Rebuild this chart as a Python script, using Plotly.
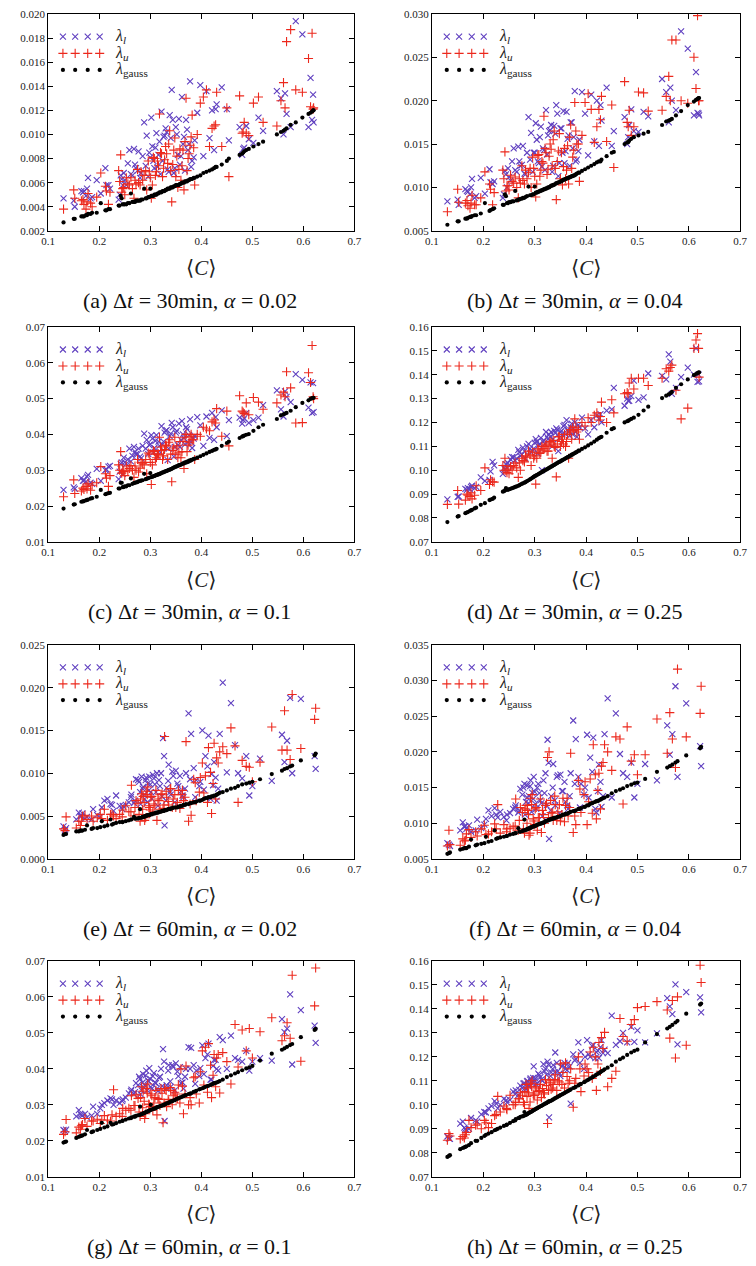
import plotly.graph_objects as go

# ---------------- data ----------------
# <C> values of the time windows (dt = 30 min), main set and dense-region set
X30 = [0.130, 0.150, 0.152, 0.165, 0.170, 0.174, 0.178, 0.186, 0.195, 0.203,
       0.212, 0.218, 0.221, 0.238, 0.242, 0.246, 0.250, 0.256, 0.262, 0.268,
       0.272, 0.277, 0.282, 0.288, 0.293, 0.298, 0.302, 0.306, 0.310, 0.314,
       0.318, 0.322, 0.326, 0.330, 0.334, 0.338, 0.342, 0.346, 0.350, 0.354,
       0.358, 0.362, 0.366, 0.370, 0.374, 0.378, 0.382, 0.387, 0.392, 0.398,
       0.404, 0.410, 0.416, 0.421, 0.425, 0.430, 0.440, 0.450, 0.454, 0.475,
       0.480, 0.484, 0.488, 0.493, 0.502, 0.512, 0.521, 0.548, 0.556, 0.561,
       0.564, 0.567, 0.575, 0.585, 0.598, 0.610, 0.614, 0.617, 0.619, 0.620]
X30B = [0.168, 0.176, 0.183, 0.214, 0.240, 0.244, 0.248, 0.253, 0.259, 0.265,
        0.270, 0.275, 0.280, 0.285, 0.291, 0.296, 0.300, 0.304, 0.308, 0.312,
        0.316, 0.320, 0.324, 0.328, 0.332, 0.336, 0.340, 0.344, 0.348, 0.352,
        0.356, 0.360, 0.364, 0.368, 0.372, 0.376, 0.380, 0.385, 0.428, 0.482]

# <C> values of the time windows (dt = 60 min)
X60 = [0.130, 0.133, 0.135, 0.155, 0.160, 0.163, 0.167, 0.172, 0.176, 0.188,
       0.196, 0.202, 0.210, 0.216, 0.222, 0.228, 0.233, 0.240, 0.246, 0.252,
       0.258, 0.263, 0.268, 0.272, 0.276, 0.280, 0.283, 0.286, 0.289, 0.292,
       0.295, 0.298, 0.301, 0.305, 0.309, 0.313, 0.317, 0.321, 0.325, 0.328,
       0.332, 0.336, 0.340, 0.345, 0.350, 0.355, 0.360, 0.365, 0.370, 0.375,
       0.380, 0.385, 0.390, 0.396, 0.402, 0.408, 0.414, 0.420, 0.425, 0.430,
       0.436, 0.442, 0.450, 0.458, 0.466, 0.472, 0.480, 0.488, 0.494, 0.500,
       0.515, 0.538, 0.558, 0.563, 0.568, 0.574, 0.578, 0.595, 0.622, 0.624]
X60B = [0.165, 0.185, 0.205, 0.225, 0.245, 0.262, 0.270, 0.278, 0.281, 0.285,
        0.288, 0.291, 0.294, 0.297, 0.300, 0.303, 0.307, 0.311, 0.315, 0.319,
        0.323, 0.327, 0.331, 0.335, 0.339, 0.343, 0.348, 0.353, 0.358, 0.363,
        0.368, 0.378, 0.388, 0.398, 0.405, 0.412, 0.418, 0.423, 0.428, 0.433]

# (a) dt=30min, alpha=0.02
LOW_A = [0.0047, 0.0045, 0.0040, 0.0053, 0.0053, 0.0049, 0.0064, 0.0048, 0.0062, 0.0051,
         0.0072, 0.0058, 0.0055, 0.0046, 0.0066, 0.0058, 0.0062, 0.0076, 0.0067, 0.0088,
         0.0072, 0.0086, 0.0068, 0.0110, 0.0099, 0.0085, 0.0114, 0.0078, 0.0089, 0.0073,
         0.0094, 0.0119, 0.0098, 0.0105, 0.0071, 0.0116, 0.0137, 0.0068, 0.0106, 0.0083,
         0.0075, 0.0131, 0.0098, 0.0112, 0.0087, 0.0144, 0.0078, 0.0095, 0.0118, 0.0141,
         0.0082, 0.0136, 0.0097, 0.0120, 0.0087, 0.0125, 0.0139, 0.0121, 0.0095, 0.0106,
         0.0083, 0.0089, 0.0107, 0.0096, 0.0093, 0.0114, 0.0103, 0.0136, 0.0130, 0.0100,
         0.0134, 0.0117, 0.0106, 0.0194, 0.0183, 0.0106, 0.0147, 0.0112, 0.0133, 0.0110]
UP_A = [0.0038, 0.0054, 0.0047, 0.0045, 0.0042, 0.0038, 0.0051, 0.0040, 0.0048, 0.0068,
        0.0057, 0.0042, 0.0052, 0.0070, 0.0083, 0.0055, 0.0050, 0.0059, 0.0064, 0.0047,
        0.0059, 0.0060, 0.0069, 0.0066, 0.0054, 0.0069, 0.0047, 0.0081, 0.0066, 0.0078,
        0.0117, 0.0084, 0.0072, 0.0090, 0.0076, 0.0103, 0.0044, 0.0087, 0.0065, 0.0056,
        0.0088, 0.0074, 0.0054, 0.0130, 0.0080, 0.0091, 0.0116, 0.0058, 0.0100, 0.0126,
        0.0131, 0.0137, 0.0090, 0.0105, 0.0107, 0.0135, 0.0090, 0.0122, 0.0065, 0.0132,
        0.0101, 0.0110, 0.0101, 0.0099, 0.0126, 0.0131, 0.0110, 0.0107, 0.0128, 0.0143,
        0.0122, 0.0177, 0.0187, 0.0137, 0.0135, 0.0163, 0.0123, 0.0184, 0.0121, 0.0122]
GAUSS_A = [0.0027, 0.0030, 0.0030, 0.0032, 0.0032, 0.0033, 0.0034, 0.0035, 0.0035, 0.0043,
           0.0037, 0.0038, 0.0038, 0.0041, 0.0049, 0.0042, 0.0042, 0.0043, 0.0051, 0.0044,
           0.0045, 0.0045, 0.0046, 0.0055, 0.0047, 0.0048, 0.0049, 0.0049, 0.0050, 0.0051,
           0.0052, 0.0052, 0.0053, 0.0054, 0.0055, 0.0055, 0.0056, 0.0057, 0.0058, 0.0058,
           0.0059, 0.0060, 0.0060, 0.0061, 0.0062, 0.0063, 0.0063, 0.0064, 0.0065, 0.0066,
           0.0068, 0.0069, 0.0070, 0.0071, 0.0072, 0.0073, 0.0075, 0.0078, 0.0080, 0.0083,
           0.0084, 0.0086, 0.0087, 0.0088, 0.0090, 0.0092, 0.0094, 0.0100, 0.0102, 0.0103,
           0.0104, 0.0105, 0.0108, 0.0110, 0.0114, 0.0117, 0.0118, 0.0119, 0.0120, 0.0120]
LOW_A2 = [0.0052, 0.0055, 0.0047, 0.0058, 0.0050, 0.0063, 0.0068, 0.0058, 0.0087, 0.0066,
          0.0075, 0.0070, 0.0064, 0.0082, 0.0074, 0.0065, 0.0081, 0.0090, 0.0072, 0.0101,
          0.0083, 0.0067, 0.0078, 0.0099, 0.0102, 0.0069, 0.0097, 0.0112, 0.0072, 0.0100,
          0.0113, 0.0082, 0.0092, 0.0070, 0.0104, 0.0092, 0.0073, 0.0081, 0.0121, 0.0088]
UP_A2 = [0.0046, 0.0044, 0.0043, 0.0053, 0.0061, 0.0052, 0.0056, 0.0064, 0.0058, 0.0055,
         0.0062, 0.0071, 0.0058, 0.0062, 0.0070, 0.0078, 0.0064, 0.0058, 0.0080, 0.0069,
         0.0074, 0.0085, 0.0065, 0.0079, 0.0084, 0.0092, 0.0070, 0.0075, 0.0097, 0.0082,
         0.0071, 0.0062, 0.0087, 0.0094, 0.0070, 0.0084, 0.0098, 0.0089, 0.0108, 0.0102]
GAUSS_A2 = [0.0032, 0.0033, 0.0034, 0.0037, 0.0041, 0.0047, 0.0042, 0.0042, 0.0043, 0.0044,
            0.0044, 0.0045, 0.0045, 0.0046, 0.0047, 0.0048, 0.0055, 0.0049, 0.0050, 0.0050,
            0.0051, 0.0052, 0.0053, 0.0053, 0.0054, 0.0055, 0.0056, 0.0056, 0.0057, 0.0058,
            0.0058, 0.0059, 0.0060, 0.0061, 0.0061, 0.0062, 0.0063, 0.0064, 0.0073, 0.0085]

# (b) dt=30min, alpha=0.04
LOW_B = [0.0084, 0.0086, 0.0080, 0.0098, 0.0095, 0.0092, 0.0110, 0.0090, 0.0111, 0.0093,
         0.0121, 0.0104, 0.0107, 0.0088, 0.0119, 0.0100, 0.0112, 0.0130, 0.0120, 0.0147,
         0.0125, 0.0148, 0.0115, 0.0181, 0.0163, 0.0140, 0.0174, 0.0130, 0.0158, 0.0124,
         0.0143, 0.0189, 0.0160, 0.0166, 0.0118, 0.0171, 0.0195, 0.0113, 0.0168, 0.0140,
         0.0128, 0.0187, 0.0160, 0.0175, 0.0145, 0.0211, 0.0132, 0.0155, 0.0210, 0.0185,
         0.0137, 0.0207, 0.0153, 0.0200, 0.0148, 0.0177, 0.0215, 0.0148, 0.0165, 0.0181,
         0.0150, 0.0172, 0.0190, 0.0165, 0.0164, 0.0187, 0.0182, 0.0225, 0.0210, 0.0175,
         0.0215, 0.0200, 0.0189, 0.0280, 0.0260, 0.0183, 0.0233, 0.0186, 0.0185, 0.0183]
UP_B = [0.0072, 0.0098, 0.0083, 0.0082, 0.0079, 0.0076, 0.0091, 0.0080, 0.0088, 0.0118,
        0.0104, 0.0080, 0.0094, 0.0120, 0.0141, 0.0102, 0.0097, 0.0107, 0.0112, 0.0088,
        0.0105, 0.0108, 0.0120, 0.0117, 0.0100, 0.0122, 0.0089, 0.0137, 0.0113, 0.0130,
        0.0182, 0.0140, 0.0121, 0.0150, 0.0125, 0.0165, 0.0086, 0.0142, 0.0110, 0.0103,
        0.0145, 0.0120, 0.0104, 0.0172, 0.0135, 0.0198, 0.0150, 0.0107, 0.0160, 0.0198,
        0.0208, 0.0190, 0.0152, 0.0170, 0.0190, 0.0205, 0.0153, 0.0195, 0.0123, 0.0222,
        0.0175, 0.0189, 0.0160, 0.0170, 0.0210, 0.0209, 0.0188, 0.0189, 0.0205, 0.0228,
        0.0200, 0.0270, 0.0270, 0.0200, 0.0197, 0.0250, 0.0214, 0.0298, 0.0200, 0.0200]
GAUSS_B = [0.0057, 0.0061, 0.0061, 0.0064, 0.0065, 0.0066, 0.0067, 0.0068, 0.0070, 0.0082,
           0.0073, 0.0075, 0.0076, 0.0080, 0.0092, 0.0082, 0.0083, 0.0084, 0.0096, 0.0086,
           0.0087, 0.0088, 0.0089, 0.0101, 0.0091, 0.0092, 0.0094, 0.0095, 0.0096, 0.0097,
           0.0098, 0.0099, 0.0100, 0.0101, 0.0102, 0.0103, 0.0105, 0.0106, 0.0107, 0.0108,
           0.0109, 0.0110, 0.0111, 0.0112, 0.0113, 0.0114, 0.0116, 0.0117, 0.0119, 0.0121,
           0.0123, 0.0125, 0.0127, 0.0129, 0.0130, 0.0132, 0.0136, 0.0140, 0.0141, 0.0150,
           0.0152, 0.0154, 0.0156, 0.0158, 0.0160, 0.0162, 0.0164, 0.0172, 0.0176, 0.0177,
           0.0178, 0.0179, 0.0183, 0.0188, 0.0195, 0.0199, 0.0201, 0.0202, 0.0203, 0.0203]
LOW_B2 = [0.0096, 0.0100, 0.0088, 0.0106, 0.0092, 0.0115, 0.0122, 0.0108, 0.0145, 0.0118,
          0.0130, 0.0126, 0.0116, 0.0140, 0.0132, 0.0118, 0.0140, 0.0155, 0.0128, 0.0170,
          0.0145, 0.0120, 0.0138, 0.0165, 0.0172, 0.0125, 0.0162, 0.0185, 0.0128, 0.0168,
          0.0188, 0.0142, 0.0156, 0.0125, 0.0175, 0.0158, 0.0130, 0.0142, 0.0195, 0.0158]
UP_B2 = [0.0085, 0.0082, 0.0080, 0.0098, 0.0110, 0.0096, 0.0102, 0.0114, 0.0105, 0.0100,
         0.0110, 0.0125, 0.0104, 0.0110, 0.0122, 0.0135, 0.0113, 0.0104, 0.0138, 0.0120,
         0.0128, 0.0145, 0.0115, 0.0136, 0.0144, 0.0155, 0.0122, 0.0130, 0.0162, 0.0140,
         0.0124, 0.0110, 0.0148, 0.0158, 0.0122, 0.0143, 0.0165, 0.0150, 0.0178, 0.0170]
GAUSS_B2 = [0.0064, 0.0066, 0.0068, 0.0074, 0.0080, 0.0090, 0.0082, 0.0083, 0.0084, 0.0085,
            0.0086, 0.0087, 0.0088, 0.0090, 0.0091, 0.0092, 0.0101, 0.0094, 0.0095, 0.0096,
            0.0097, 0.0098, 0.0099, 0.0100, 0.0102, 0.0103, 0.0104, 0.0105, 0.0106, 0.0107,
            0.0109, 0.0110, 0.0111, 0.0112, 0.0113, 0.0114, 0.0115, 0.0117, 0.0130, 0.0152]

# (c) dt=30min, alpha=0.1
LOW_C = [0.0245, 0.0252, 0.0248, 0.0278, 0.0272, 0.0268, 0.0287, 0.0262, 0.0304, 0.0270,
         0.0300, 0.0310, 0.0312, 0.0275, 0.0318, 0.0290, 0.0322, 0.0330, 0.0325, 0.0365,
         0.0345, 0.0360, 0.0333, 0.0402, 0.0385, 0.0370, 0.0398, 0.0350, 0.0382, 0.0340,
         0.0368, 0.0423, 0.0380, 0.0410, 0.0328, 0.0395, 0.0432, 0.0338, 0.0405, 0.0370,
         0.0365, 0.0437, 0.0390, 0.0420, 0.0378, 0.0442, 0.0362, 0.0395, 0.0448, 0.0425,
         0.0368, 0.0450, 0.0390, 0.0460, 0.0385, 0.0420, 0.0467, 0.0395, 0.0440, 0.0447,
         0.0430, 0.0445, 0.0460, 0.0432, 0.0440, 0.0447, 0.0482, 0.0523, 0.0470, 0.0450,
         0.0520, 0.0505, 0.0490, 0.0568, 0.0552, 0.0475, 0.0545, 0.0460, 0.0543, 0.0462]
UP_C = [0.0226, 0.0273, 0.0235, 0.0242, 0.0246, 0.0255, 0.0262, 0.0258, 0.0265, 0.0310,
        0.0290, 0.0255, 0.0285, 0.0315, 0.0352, 0.0300, 0.0285, 0.0298, 0.0313, 0.0280,
        0.0300, 0.0295, 0.0322, 0.0315, 0.0290, 0.0345, 0.0260, 0.0355, 0.0330, 0.0345,
        0.0392, 0.0355, 0.0340, 0.0370, 0.0330, 0.0385, 0.0268, 0.0362, 0.0345, 0.0335,
        0.0380, 0.0352, 0.0305, 0.0400, 0.0370, 0.0395, 0.0385, 0.0330, 0.0400, 0.0395,
        0.0420, 0.0415, 0.0410, 0.0435, 0.0440, 0.0472, 0.0395, 0.0465, 0.0368, 0.0508,
        0.0465, 0.0458, 0.0488, 0.0455, 0.0503, 0.0490, 0.0470, 0.0488, 0.0510, 0.0518,
        0.0505, 0.0575, 0.0530, 0.0432, 0.0433, 0.0572, 0.0545, 0.0648, 0.0505, 0.0500]
GAUSS_C = [0.0193, 0.0204, 0.0205, 0.0212, 0.0214, 0.0216, 0.0218, 0.0222, 0.0226, 0.0245,
           0.0233, 0.0236, 0.0237, 0.0249, 0.0265, 0.0253, 0.0255, 0.0258, 0.0277, 0.0264,
           0.0266, 0.0269, 0.0271, 0.0290, 0.0276, 0.0279, 0.0281, 0.0283, 0.0285, 0.0287,
           0.0289, 0.0292, 0.0294, 0.0297, 0.0299, 0.0301, 0.0304, 0.0307, 0.0310, 0.0312,
           0.0314, 0.0317, 0.0319, 0.0321, 0.0323, 0.0326, 0.0329, 0.0332, 0.0335, 0.0339,
           0.0343, 0.0347, 0.0351, 0.0354, 0.0357, 0.0360, 0.0368, 0.0376, 0.0380, 0.0390,
           0.0394, 0.0397, 0.0399, 0.0401, 0.0410, 0.0420, 0.0427, 0.0443, 0.0453, 0.0456,
           0.0458, 0.0460, 0.0466, 0.0476, 0.0488, 0.0495, 0.0499, 0.0501, 0.0502, 0.0502]
LOW_C2 = [0.0270, 0.0282, 0.0265, 0.0302, 0.0296, 0.0322, 0.0335, 0.0318, 0.0360, 0.0340,
          0.0352, 0.0345, 0.0338, 0.0368, 0.0360, 0.0345, 0.0372, 0.0388, 0.0362, 0.0398,
          0.0380, 0.0350, 0.0372, 0.0405, 0.0412, 0.0360, 0.0402, 0.0420, 0.0365, 0.0410,
          0.0430, 0.0385, 0.0400, 0.0372, 0.0415, 0.0398, 0.0378, 0.0388, 0.0448, 0.0440]
UP_C2 = [0.0250, 0.0248, 0.0244, 0.0278, 0.0300, 0.0292, 0.0296, 0.0312, 0.0305, 0.0300,
         0.0312, 0.0330, 0.0306, 0.0318, 0.0330, 0.0348, 0.0322, 0.0315, 0.0352, 0.0335,
         0.0345, 0.0365, 0.0330, 0.0358, 0.0368, 0.0378, 0.0345, 0.0355, 0.0392, 0.0368,
         0.0350, 0.0335, 0.0380, 0.0392, 0.0352, 0.0378, 0.0400, 0.0385, 0.0432, 0.0462]
GAUSS_C2 = [0.0213, 0.0217, 0.0221, 0.0234, 0.0249, 0.0265, 0.0253, 0.0255, 0.0258, 0.0262,
            0.0265, 0.0267, 0.0270, 0.0272, 0.0275, 0.0278, 0.0292, 0.0282, 0.0284, 0.0287,
            0.0289, 0.0291, 0.0294, 0.0296, 0.0298, 0.0301, 0.0303, 0.0306, 0.0309, 0.0311,
            0.0314, 0.0316, 0.0319, 0.0322, 0.0324, 0.0327, 0.0329, 0.0332, 0.0358, 0.0395]

# (d) dt=30min, alpha=0.25
LOW_D = [0.0878, 0.0888, 0.0890, 0.0922, 0.0925, 0.0920, 0.0935, 0.0930, 0.0970, 0.0955,
         0.0960, 0.1035, 0.1020, 0.0985, 0.1005, 0.1010, 0.1020, 0.1055, 0.1040, 0.1085,
         0.1060, 0.1095, 0.1050, 0.1110, 0.1075, 0.1090, 0.1130, 0.1070, 0.1110, 0.1000,
         0.1125, 0.1160, 0.1130, 0.1140, 0.1100, 0.1165, 0.1175, 0.1080, 0.1160, 0.1150,
         0.1190, 0.1210, 0.1160, 0.1180, 0.1150, 0.1200, 0.1140, 0.1180, 0.1220, 0.1175,
         0.1150, 0.1210, 0.1180, 0.1230, 0.1215, 0.1200, 0.1250, 0.1255, 0.1345, 0.1270,
         0.1300, 0.1290, 0.1310, 0.1375, 0.1295, 0.1305, 0.1405, 0.1395, 0.1380, 0.1485,
         0.1455, 0.1320, 0.1345, 0.1390, 0.1430, 0.1400, 0.1510, 0.1370, 0.1400, 0.1372]
UP_D = [0.0857, 0.0915, 0.0858, 0.0875, 0.0895, 0.0890, 0.0880, 0.0935, 0.0915, 0.1010,
        0.0940, 0.0952, 0.0950, 0.1020, 0.1050, 0.0990, 0.0985, 0.1000, 0.1030, 0.0970,
        0.1000, 0.1040, 0.1060, 0.1080, 0.1020, 0.1050, 0.0942, 0.1090, 0.1070, 0.1100,
        0.1090, 0.1110, 0.1080, 0.1120, 0.1050, 0.1100, 0.0972, 0.1140, 0.1100, 0.1130,
        0.1150, 0.1120, 0.1050, 0.1170, 0.1180, 0.1215, 0.1160, 0.1130, 0.1200, 0.1185,
        0.1220, 0.1200, 0.1230, 0.1240, 0.1210, 0.1285, 0.1200, 0.1295, 0.1240, 0.1320,
        0.1325, 0.1365, 0.1385, 0.1340, 0.1385, 0.1385, 0.1355, 0.1385, 0.1425, 0.1415,
        0.1430, 0.1440, 0.1335, 0.1215, 0.1260, 0.1510, 0.1545, 0.1572, 0.1510, 0.1390]
GAUSS_D = [0.0783, 0.0806, 0.0808, 0.0820, 0.0825, 0.0830, 0.0834, 0.0843, 0.0855, 0.0862,
           0.0875, 0.0880, 0.0885, 0.0910, 0.0915, 0.0918, 0.0920, 0.0925, 0.0930, 0.0935,
           0.0940, 0.0945, 0.0950, 0.0958, 0.0965, 0.0972, 0.0977, 0.0982, 0.0987, 0.0992,
           0.0997, 0.1002, 0.1007, 0.1012, 0.1017, 0.1022, 0.1028, 0.1033, 0.1037, 0.1042,
           0.1047, 0.1052, 0.1056, 0.1061, 0.1066, 0.1071, 0.1076, 0.1082, 0.1089, 0.1096,
           0.1104, 0.1112, 0.1120, 0.1128, 0.1134, 0.1140, 0.1157, 0.1172, 0.1176, 0.1200,
           0.1205, 0.1210, 0.1215, 0.1220, 0.1232, 0.1250, 0.1266, 0.1302, 0.1312, 0.1318,
           0.1322, 0.1328, 0.1345, 0.1360, 0.1380, 0.1398, 0.1403, 0.1407, 0.1409, 0.1410]
LOW_D2 = [0.0918, 0.0930, 0.0925, 0.0995, 0.1010, 0.1025, 0.1030, 0.1045, 0.1055, 0.1050,
          0.1075, 0.1065, 0.1080, 0.1100, 0.1090, 0.1080, 0.1115, 0.1120, 0.1105, 0.1135,
          0.1120, 0.1110, 0.1140, 0.1150, 0.1160, 0.1130, 0.1155, 0.1170, 0.1135, 0.1165,
          0.1185, 0.1150, 0.1170, 0.1145, 0.1195, 0.1175, 0.1160, 0.1190, 0.1235, 0.1290]
UP_D2 = [0.0900, 0.0905, 0.0895, 0.0960, 0.1000, 0.0998, 0.1005, 0.1015, 0.1020, 0.1010,
         0.1030, 0.1050, 0.1035, 0.1055, 0.1065, 0.1075, 0.1060, 0.1050, 0.1085, 0.1075,
         0.1090, 0.1100, 0.1080, 0.1105, 0.1115, 0.1125, 0.1095, 0.1110, 0.1140, 0.1120,
         0.1110, 0.1100, 0.1150, 0.1160, 0.1130, 0.1165, 0.1180, 0.1170, 0.1225, 0.1320]
GAUSS_D2 = [0.0823, 0.0832, 0.0840, 0.0877, 0.0912, 0.0925, 0.0919, 0.0922, 0.0927, 0.0932,
            0.0937, 0.0943, 0.0948, 0.0954, 0.0962, 0.0969, 0.0975, 0.0980, 0.0985, 0.0990,
            0.0995, 0.1000, 0.1005, 0.1010, 0.1015, 0.1020, 0.1025, 0.1030, 0.1035, 0.1040,
            0.1045, 0.1050, 0.1055, 0.1060, 0.1065, 0.1070, 0.1075, 0.1082, 0.1138, 0.1207]

# (e) dt=60min, alpha=0.02
LOW_E = [0.0038, 0.0034, 0.0036, 0.0046, 0.0054, 0.0050, 0.0053, 0.0047, 0.0049, 0.0058,
         0.0051, 0.0049, 0.0068, 0.0070, 0.0064, 0.0056, 0.0074, 0.0062, 0.0062, 0.0063,
         0.0066, 0.0075, 0.0065, 0.0093, 0.0092, 0.0078, 0.0096, 0.0084, 0.0070, 0.0095,
         0.0088, 0.0096, 0.0078, 0.0098, 0.0087, 0.0100, 0.0092, 0.0100, 0.0141, 0.0039,
         0.0083, 0.0110, 0.0075, 0.0097, 0.0103, 0.0085, 0.0079, 0.0072, 0.0100, 0.0170,
         0.0146, 0.0106, 0.0092, 0.0085, 0.0150, 0.0120, 0.0144, 0.0099, 0.0113, 0.0068,
         0.0146, 0.0206, 0.0101, 0.0182, 0.0133, 0.0100, 0.0094, 0.0120, 0.0074, 0.0085,
         0.0117, 0.0091, 0.0145, 0.0113, 0.0138, 0.0188, 0.0100, 0.0187, 0.0120, 0.0105]
UP_E = [0.0035, 0.0033, 0.0049, 0.0036, 0.0044, 0.0039, 0.0050, 0.0051, 0.0046, 0.0044,
        0.0048, 0.0052, 0.0058, 0.0045, 0.0052, 0.0050, 0.0047, 0.0052, 0.0057, 0.0062,
        0.0055, 0.0086, 0.0050, 0.0068, 0.0065, 0.0044, 0.0076, 0.0073, 0.0045, 0.0079,
        0.0084, 0.0060, 0.0072, 0.0055, 0.0062, 0.0045, 0.0068, 0.0075, 0.0059, 0.0143,
        0.0072, 0.0063, 0.0082, 0.0070, 0.0060, 0.0080, 0.0075, 0.0068, 0.0137, 0.0044,
        0.0051, 0.0093, 0.0068, 0.0078, 0.0112, 0.0097, 0.0130, 0.0053, 0.0135, 0.0118,
        0.0125, 0.0131, 0.0123, 0.0153, 0.0132, 0.0066, 0.0115, 0.0108, 0.0107, 0.0090,
        0.0113, 0.0154, 0.0127, 0.0173, 0.0127, 0.0116, 0.0192, 0.0129, 0.0163, 0.0176]
GAUSS_E = [0.0028, 0.0029, 0.0029, 0.0032, 0.0032, 0.0033, 0.0033, 0.0034, 0.0039, 0.0036,
           0.0036, 0.0037, 0.0038, 0.0039, 0.0046, 0.0041, 0.0042, 0.0043, 0.0043, 0.0044,
           0.0045, 0.0046, 0.0049, 0.0047, 0.0047, 0.0058, 0.0048, 0.0049, 0.0050, 0.0050,
           0.0051, 0.0051, 0.0052, 0.0053, 0.0053, 0.0054, 0.0055, 0.0055, 0.0056, 0.0057,
           0.0057, 0.0058, 0.0059, 0.0060, 0.0060, 0.0061, 0.0062, 0.0063, 0.0064, 0.0064,
           0.0065, 0.0066, 0.0067, 0.0068, 0.0069, 0.0071, 0.0072, 0.0073, 0.0074, 0.0075,
           0.0077, 0.0078, 0.0080, 0.0082, 0.0083, 0.0085, 0.0087, 0.0088, 0.0089, 0.0090,
           0.0093, 0.0099, 0.0103, 0.0105, 0.0106, 0.0108, 0.0109, 0.0115, 0.0121, 0.0123]
LOW_E2 = [0.0050, 0.0046, 0.0060, 0.0063, 0.0058, 0.0072, 0.0068, 0.0090, 0.0064, 0.0082,
          0.0075, 0.0092, 0.0066, 0.0080, 0.0087, 0.0070, 0.0094, 0.0078, 0.0062, 0.0085,
          0.0073, 0.0120, 0.0068, 0.0091, 0.0078, 0.0102, 0.0066, 0.0088, 0.0097, 0.0074,
          0.0082, 0.0093, 0.0072, 0.0090, 0.0081, 0.0108, 0.0070, 0.0086, 0.0095, 0.0082]
UP_E2 = [0.0044, 0.0050, 0.0047, 0.0052, 0.0049, 0.0055, 0.0060, 0.0052, 0.0070, 0.0058,
         0.0066, 0.0048, 0.0075, 0.0062, 0.0057, 0.0073, 0.0064, 0.0080, 0.0070, 0.0058,
         0.0076, 0.0063, 0.0079, 0.0067, 0.0082, 0.0060, 0.0075, 0.0066, 0.0059, 0.0080,
         0.0072, 0.0064, 0.0089, 0.0095, 0.0077, 0.0066, 0.0101, 0.0088, 0.0070, 0.0112]
GAUSS_E2 = [0.0033, 0.0035, 0.0044, 0.0040, 0.0043, 0.0046, 0.0047, 0.0048, 0.0048, 0.0049,
            0.0049, 0.0050, 0.0051, 0.0051, 0.0052, 0.0052, 0.0053, 0.0054, 0.0054, 0.0055,
            0.0056, 0.0056, 0.0057, 0.0058, 0.0058, 0.0059, 0.0060, 0.0060, 0.0061, 0.0062,
            0.0063, 0.0065, 0.0066, 0.0068, 0.0070, 0.0071, 0.0072, 0.0073, 0.0074, 0.0076]

# (f) dt=60min, alpha=0.04
LOW_F = [0.0072, 0.0070, 0.0068, 0.0090, 0.0101, 0.0095, 0.0092, 0.0097, 0.0088, 0.0105,
         0.0093, 0.0098, 0.0118, 0.0110, 0.0121, 0.0108, 0.0116, 0.0109, 0.0112, 0.0114,
         0.0120, 0.0125, 0.0115, 0.0148, 0.0140, 0.0155, 0.0130, 0.0153, 0.0138, 0.0160,
         0.0143, 0.0165, 0.0127, 0.0150, 0.0142, 0.0128, 0.0160, 0.0170, 0.0217, 0.0078,
         0.0138, 0.0183, 0.0125, 0.0167, 0.0168, 0.0145, 0.0130, 0.0120, 0.0170, 0.0244,
         0.0218, 0.0165, 0.0155, 0.0140, 0.0224, 0.0192, 0.0220, 0.0115, 0.0182, 0.0123,
         0.0225, 0.0275, 0.0136, 0.0254, 0.0197, 0.0170, 0.0165, 0.0185, 0.0136, 0.0155,
         0.0183, 0.0160, 0.0237, 0.0196, 0.0225, 0.0292, 0.0165, 0.0268, 0.0208, 0.0180]
UP_F = [0.0068, 0.0090, 0.0070, 0.0069, 0.0078, 0.0075, 0.0085, 0.0091, 0.0080, 0.0082,
        0.0092, 0.0097, 0.0085, 0.0088, 0.0099, 0.0126, 0.0086, 0.0098, 0.0092, 0.0093,
        0.0095, 0.0134, 0.0090, 0.0122, 0.0115, 0.0086, 0.0125, 0.0118, 0.0083, 0.0135,
        0.0140, 0.0103, 0.0120, 0.0090, 0.0108, 0.0087, 0.0112, 0.0125, 0.0192, 0.0200,
        0.0115, 0.0104, 0.0126, 0.0116, 0.0103, 0.0135, 0.0125, 0.0110, 0.0198, 0.0087,
        0.0098, 0.0160, 0.0115, 0.0140, 0.0098, 0.0162, 0.0210, 0.0106, 0.0170, 0.0180,
        0.0210, 0.0200, 0.0174, 0.0221, 0.0218, 0.0127, 0.0235, 0.0187, 0.0196, 0.0168,
        0.0196, 0.0246, 0.0198, 0.0255, 0.0218, 0.0178, 0.0316, 0.0221, 0.0254, 0.0292]
GAUSS_F = [0.0057, 0.0058, 0.0059, 0.0063, 0.0064, 0.0065, 0.0065, 0.0067, 0.0077, 0.0070,
           0.0071, 0.0072, 0.0074, 0.0075, 0.0090, 0.0079, 0.0080, 0.0081, 0.0082, 0.0084,
           0.0085, 0.0086, 0.0093, 0.0088, 0.0089, 0.0105, 0.0091, 0.0092, 0.0093, 0.0094,
           0.0095, 0.0096, 0.0096, 0.0098, 0.0099, 0.0100, 0.0101, 0.0103, 0.0104, 0.0105,
           0.0106, 0.0107, 0.0108, 0.0109, 0.0110, 0.0112, 0.0113, 0.0114, 0.0116, 0.0117,
           0.0118, 0.0120, 0.0121, 0.0123, 0.0125, 0.0127, 0.0129, 0.0131, 0.0132, 0.0134,
           0.0136, 0.0138, 0.0142, 0.0145, 0.0147, 0.0149, 0.0152, 0.0154, 0.0156, 0.0157,
           0.0162, 0.0172, 0.0178, 0.0180, 0.0182, 0.0185, 0.0187, 0.0195, 0.0205, 0.0207]
LOW_F2 = [0.0096, 0.0090, 0.0106, 0.0112, 0.0104, 0.0122, 0.0118, 0.0150, 0.0112, 0.0136,
          0.0128, 0.0152, 0.0116, 0.0134, 0.0144, 0.0120, 0.0155, 0.0132, 0.0110, 0.0142,
          0.0125, 0.0185, 0.0118, 0.0150, 0.0132, 0.0165, 0.0114, 0.0145, 0.0158, 0.0125,
          0.0138, 0.0155, 0.0122, 0.0150, 0.0136, 0.0172, 0.0120, 0.0145, 0.0158, 0.0138]
UP_F2 = [0.0076, 0.0088, 0.0084, 0.0092, 0.0088, 0.0096, 0.0104, 0.0092, 0.0120, 0.0100,
         0.0112, 0.0086, 0.0126, 0.0106, 0.0098, 0.0122, 0.0108, 0.0134, 0.0118, 0.0100,
         0.0128, 0.0108, 0.0132, 0.0114, 0.0138, 0.0104, 0.0126, 0.0112, 0.0102, 0.0135,
         0.0122, 0.0110, 0.0148, 0.0158, 0.0130, 0.0114, 0.0168, 0.0146, 0.0120, 0.0185]
GAUSS_F2 = [0.0065, 0.0069, 0.0081, 0.0078, 0.0082, 0.0086, 0.0088, 0.0090, 0.0090, 0.0091,
            0.0092, 0.0093, 0.0094, 0.0095, 0.0096, 0.0097, 0.0098, 0.0099, 0.0100, 0.0101,
            0.0103, 0.0104, 0.0105, 0.0106, 0.0107, 0.0108, 0.0109, 0.0111, 0.0112, 0.0113,
            0.0115, 0.0117, 0.0120, 0.0123, 0.0125, 0.0128, 0.0130, 0.0131, 0.0133, 0.0135]

# (g) dt=60min, alpha=0.1
LOW_G = [0.0230, 0.0227, 0.0231, 0.0268, 0.0285, 0.0275, 0.0270, 0.0275, 0.0265, 0.0295,
         0.0275, 0.0290, 0.0305, 0.0312, 0.0318, 0.0300, 0.0312, 0.0305, 0.0315, 0.0320,
         0.0332, 0.0342, 0.0330, 0.0360, 0.0355, 0.0372, 0.0340, 0.0385, 0.0355, 0.0395,
         0.0368, 0.0402, 0.0350, 0.0380, 0.0362, 0.0345, 0.0375, 0.0400, 0.0455, 0.0255,
         0.0355, 0.0410, 0.0350, 0.0405, 0.0415, 0.0380, 0.0360, 0.0345, 0.0400, 0.0460,
         0.0458, 0.0410, 0.0395, 0.0380, 0.0465, 0.0430, 0.0470, 0.0370, 0.0425, 0.0400,
         0.0488, 0.0480, 0.0400, 0.0492, 0.0430, 0.0425, 0.0420, 0.0450, 0.0395, 0.0420,
         0.0430, 0.0423, 0.0538, 0.0502, 0.0512, 0.0607, 0.0412, 0.0563, 0.0520, 0.0472]
UP_G = [0.0218, 0.0225, 0.0259, 0.0222, 0.0238, 0.0232, 0.0245, 0.0262, 0.0240, 0.0255,
        0.0260, 0.0248, 0.0270, 0.0258, 0.0255, 0.0342, 0.0268, 0.0275, 0.0290, 0.0285,
        0.0290, 0.0325, 0.0298, 0.0328, 0.0318, 0.0268, 0.0350, 0.0338, 0.0262, 0.0345,
        0.0358, 0.0300, 0.0330, 0.0285, 0.0320, 0.0272, 0.0315, 0.0345, 0.0250, 0.0345,
        0.0295, 0.0310, 0.0340, 0.0325, 0.0330, 0.0355, 0.0400, 0.0275, 0.0408, 0.0300,
        0.0300, 0.0375, 0.0330, 0.0305, 0.0450, 0.0460, 0.0470, 0.0320, 0.0440, 0.0430,
        0.0333, 0.0445, 0.0420, 0.0358, 0.0523, 0.0405, 0.0508, 0.0450, 0.0512, 0.0430,
        0.0503, 0.0542, 0.0478, 0.0492, 0.0528, 0.0485, 0.0660, 0.0421, 0.0575, 0.0680]
GAUSS_G = [0.0195, 0.0197, 0.0198, 0.0208, 0.0211, 0.0213, 0.0215, 0.0218, 0.0230, 0.0226,
           0.0230, 0.0233, 0.0237, 0.0240, 0.0250, 0.0246, 0.0249, 0.0253, 0.0256, 0.0259,
           0.0262, 0.0265, 0.0267, 0.0269, 0.0271, 0.0295, 0.0274, 0.0276, 0.0278, 0.0280,
           0.0282, 0.0284, 0.0300, 0.0288, 0.0290, 0.0293, 0.0295, 0.0297, 0.0299, 0.0301,
           0.0304, 0.0306, 0.0309, 0.0312, 0.0315, 0.0318, 0.0321, 0.0324, 0.0327, 0.0330,
           0.0332, 0.0336, 0.0339, 0.0343, 0.0346, 0.0350, 0.0353, 0.0357, 0.0360, 0.0362,
           0.0366, 0.0370, 0.0377, 0.0382, 0.0387, 0.0391, 0.0396, 0.0401, 0.0404, 0.0408,
           0.0423, 0.0442, 0.0453, 0.0457, 0.0461, 0.0466, 0.0469, 0.0488, 0.0508, 0.0511]
LOW_G2 = [0.0272, 0.0270, 0.0300, 0.0315, 0.0310, 0.0338, 0.0335, 0.0378, 0.0330, 0.0362,
          0.0348, 0.0382, 0.0340, 0.0365, 0.0372, 0.0345, 0.0388, 0.0360, 0.0338, 0.0378,
          0.0352, 0.0420, 0.0345, 0.0395, 0.0365, 0.0410, 0.0340, 0.0392, 0.0405, 0.0362,
          0.0378, 0.0400, 0.0358, 0.0402, 0.0385, 0.0440, 0.0370, 0.0408, 0.0425, 0.0395]
UP_G2 = [0.0242, 0.0255, 0.0258, 0.0272, 0.0268, 0.0285, 0.0298, 0.0280, 0.0320, 0.0292,
         0.0310, 0.0275, 0.0332, 0.0302, 0.0295, 0.0325, 0.0305, 0.0340, 0.0318, 0.0298,
         0.0332, 0.0305, 0.0340, 0.0315, 0.0348, 0.0300, 0.0335, 0.0318, 0.0305, 0.0352,
         0.0330, 0.0320, 0.0378, 0.0392, 0.0355, 0.0335, 0.0410, 0.0382, 0.0350, 0.0440]
GAUSS_G2 = [0.0214, 0.0224, 0.0250, 0.0245, 0.0255, 0.0263, 0.0267, 0.0271, 0.0273, 0.0275,
            0.0277, 0.0279, 0.0281, 0.0283, 0.0285, 0.0287, 0.0289, 0.0291, 0.0294, 0.0296,
            0.0298, 0.0300, 0.0303, 0.0305, 0.0308, 0.0310, 0.0313, 0.0317, 0.0320, 0.0323,
            0.0326, 0.0331, 0.0337, 0.0344, 0.0348, 0.0352, 0.0355, 0.0358, 0.0361, 0.0364]

# (h) dt=60min, alpha=0.25
LOW_H = [0.0868, 0.0860, 0.0858, 0.0922, 0.0930, 0.0905, 0.0895, 0.0900, 0.0945, 0.0930,
         0.0960, 0.0970, 0.0985, 0.0995, 0.1015, 0.0985, 0.1000, 0.1025, 0.1010, 0.1020,
         0.1055, 0.1060, 0.1040, 0.1080, 0.1070, 0.1090, 0.1065, 0.1100, 0.1075, 0.1110,
         0.1095, 0.1160, 0.1110, 0.1090, 0.1125, 0.1105, 0.1170, 0.1150, 0.1180, 0.0948,
         0.1135, 0.1165, 0.1218, 0.1140, 0.1120, 0.1165, 0.1150, 0.1175, 0.1005, 0.1210,
         0.1190, 0.1260, 0.1220, 0.1150, 0.1270, 0.1200, 0.1250, 0.1220, 0.1195, 0.1270,
         0.1230, 0.1215, 0.1372, 0.1250, 0.1265, 0.1300, 0.1260, 0.1325, 0.1262, 0.1310,
         0.1260, 0.1298, 0.1445, 0.1410, 0.1378, 0.1502, 0.1252, 0.1470, 0.1448, 0.1385]
UP_H = [0.0852, 0.0880, 0.0870, 0.0858, 0.0868, 0.0862, 0.0885, 0.0935, 0.0905, 0.0920,
        0.0900, 0.0935, 0.0905, 0.0922, 0.0955, 0.1035, 0.0970, 0.0995, 0.0980, 0.1040,
        0.1000, 0.1010, 0.1025, 0.1050, 0.1040, 0.1000, 0.1085, 0.1070, 0.0985, 0.1090,
        0.1100, 0.1040, 0.1075, 0.1020, 0.1060, 0.1030, 0.1050, 0.1105, 0.0922, 0.1100,
        0.1065, 0.1085, 0.1125, 0.1100, 0.1170, 0.1135, 0.1175, 0.1090, 0.1150, 0.0990,
        0.1110, 0.1200, 0.1055, 0.1120, 0.1150, 0.1220, 0.1240, 0.1060, 0.1260, 0.1280,
        0.1302, 0.1075, 0.1110, 0.1140, 0.1360, 0.1285, 0.1265, 0.1335, 0.1355, 0.1405,
        0.1410, 0.1430, 0.1395, 0.1278, 0.1435, 0.1195, 0.1450, 0.1248, 0.1582, 0.1510]
GAUSS_H = [0.0783, 0.0787, 0.0790, 0.0815, 0.0820, 0.0823, 0.0827, 0.0832, 0.0840, 0.0850,
           0.0862, 0.0870, 0.0880, 0.0886, 0.0894, 0.0900, 0.0905, 0.0912, 0.0918, 0.0925,
           0.0932, 0.0940, 0.0945, 0.0950, 0.0952, 0.0970, 0.0958, 0.0962, 0.0966, 0.0970,
           0.0974, 0.0978, 0.0981, 0.0986, 0.0991, 0.0996, 0.1001, 0.1006, 0.1011, 0.1015,
           0.1018, 0.1023, 0.1028, 0.1034, 0.1040, 0.1046, 0.1052, 0.1058, 0.1064, 0.1070,
           0.1075, 0.1081, 0.1087, 0.1094, 0.1102, 0.1110, 0.1118, 0.1126, 0.1132, 0.1140,
           0.1148, 0.1155, 0.1165, 0.1180, 0.1190, 0.1197, 0.1208, 0.1218, 0.1225, 0.1230,
           0.1260, 0.1295, 0.1318, 0.1325, 0.1333, 0.1343, 0.1350, 0.1380, 0.1418, 0.1422]
LOW_H2 = [0.0900, 0.0935, 0.0968, 0.1005, 0.1020, 0.1045, 0.1062, 0.1088, 0.1070, 0.1098,
          0.1082, 0.1105, 0.1090, 0.1112, 0.1100, 0.1085, 0.1130, 0.1115, 0.1100, 0.1140,
          0.1125, 0.1168, 0.1120, 0.1150, 0.1135, 0.1175, 0.1130, 0.1160, 0.1175, 0.1145,
          0.1160, 0.1185, 0.1175, 0.1200, 0.1210, 0.1245, 0.1195, 0.1225, 0.1240, 0.1215]
UP_H2 = [0.0875, 0.0915, 0.0925, 0.0960, 0.0985, 0.1000, 0.1025, 0.1010, 0.1055, 0.1035,
         0.1050, 0.1012, 0.1075, 0.1045, 0.1040, 0.1070, 0.1055, 0.1085, 0.1068, 0.1045,
         0.1080, 0.1060, 0.1092, 0.1070, 0.1105, 0.1060, 0.1095, 0.1085, 0.1070, 0.1118,
         0.1100, 0.1090, 0.1150, 0.1170, 0.1135, 0.1110, 0.1200, 0.1170, 0.1140, 0.1235]
GAUSS_H2 = [0.0825, 0.0850, 0.0875, 0.0897, 0.0916, 0.0935, 0.0945, 0.0953, 0.0956, 0.0961,
            0.0965, 0.0969, 0.0972, 0.0976, 0.0980, 0.0984, 0.0989, 0.0994, 0.0998, 0.1003,
            0.1007, 0.1012, 0.1016, 0.1021, 0.1026, 0.1031, 0.1037, 0.1043, 0.1049, 0.1055,
            0.1061, 0.1072, 0.1085, 0.1097, 0.1105, 0.1114, 0.1122, 0.1129, 0.1136, 0.1143]

Y_RANGES = [(0.002, 0.020), (0.005, 0.030), (0.01, 0.07), (0.07, 0.16),
            (0.000, 0.025), (0.005, 0.035), (0.01, 0.07), (0.07, 0.16)]
Y_DTICK = [0.002, 0.005, 0.01, 0.01, 0.005, 0.005, 0.01, 0.01]
Y_FMT = ['.3f', '.3f', '.2f', '.2f', '.3f', '.3f', '.2f', '.2f']
CAPTIONS = ["(a) Δ<i>t</i> = 30min, <i>α</i> = 0.02",
            "(b) Δ<i>t</i> = 30min, <i>α</i> = 0.04",
            "(c) Δ<i>t</i> = 30min, <i>α</i> = 0.1",
            "(d) Δ<i>t</i> = 30min, <i>α</i> = 0.25",
            "(e) Δ<i>t</i> = 60min, <i>α</i> = 0.02",
            "(f) Δ<i>t</i> = 60min, <i>α</i> = 0.04",
            "(g) Δ<i>t</i> = 60min, <i>α</i> = 0.1",
            "(h) Δ<i>t</i> = 60min, <i>α</i> = 0.25"]
PANELS = [(X30 + X30B, LOW_A + LOW_A2, UP_A + UP_A2, GAUSS_A + GAUSS_A2),
          (X30 + X30B, LOW_B + LOW_B2, UP_B + UP_B2, GAUSS_B + GAUSS_B2),
          (X30 + X30B, LOW_C + LOW_C2, UP_C + UP_C2, GAUSS_C + GAUSS_C2),
          (X30 + X30B, LOW_D + LOW_D2, UP_D + UP_D2, GAUSS_D + GAUSS_D2),
          (X60 + X60B, LOW_E + LOW_E2, UP_E + UP_E2, GAUSS_E + GAUSS_E2),
          (X60 + X60B, LOW_F + LOW_F2, UP_F + UP_F2, GAUSS_F + GAUSS_F2),
          (X60 + X60B, LOW_G + LOW_G2, UP_G + UP_G2, GAUSS_G + GAUSS_G2),
          (X60 + X60B, LOW_H + LOW_H2, UP_H + UP_H2, GAUSS_H + GAUSS_H2)]
SERIES_NAMES = ["<i>λ</i><sub><i>l</i></sub>", "<i>λ</i><sub><i>u</i></sub>", "<i>λ</i><sub>gauss</sub>"]

# ---------------- style / layout ----------------
W, H = 756, 1266
COLS = [(42, 354), (433, 747)]
ROWS = [(8, 227), (324, 541), (645, 861), (964, 1182)]
PURPLE = "rgb(96,64,192)"
RED = "rgb(236,40,28)"
SERIF = "Liberation Serif, DejaVu Serif, serif"

LEG_KEY_X = [0.048, 0.088, 0.129, 0.168]
LEG_ROW_Y = [0.895, 0.818, 0.742]
LEG_TEXT_X = 0.212

styles = [
    dict(symbol="x-thin-open", size=6, color=PURPLE, line=dict(width=1.1, color=PURPLE)),
    dict(symbol="cross-thin-open", size=6.5, color=RED, line=dict(width=1.1, color=RED)),
    dict(symbol="circle", size=4.2, color="black", line=dict(width=0)),
]

fig = go.Figure()
layout = dict(width=W, height=H, margin=dict(l=0, r=0, t=0, b=0),
              paper_bgcolor="white", plot_bgcolor="rgba(0,0,0,0)", showlegend=False,
              font=dict(family=SERIF, color="#222"))
annotations = []

for i, (xs, lo, up, ga) in enumerate(PANELS):
    n = i + 1
    r, c = divmod(i, 2)
    x0, x1 = COLS[c]
    top, bot = ROWS[r]
    dx = [x0 / W, x1 / W]
    dy = [1 - bot / H, 1 - top / H]
    xa, ya = f"x{n}", f"y{n}"
    xk = "xaxis" if n == 1 else f"xaxis{n}"
    yk = "yaxis" if n == 1 else f"yaxis{n}"
    axis_common = dict(showline=True, linecolor="black", linewidth=1, mirror="ticks",
                       ticks="inside", ticklen=5, tickwidth=1, tickcolor="black",
                       showgrid=False, zeroline=False,
                       tickfont=dict(family=SERIF, size=11, color="#222"))
    layout[xk] = dict(domain=dx, range=[0.1, 0.7], dtick=0.1, tick0=0.1, tickformat=".1f",
                      anchor=ya, **axis_common)
    yr = Y_RANGES[i]
    layout[yk] = dict(domain=dy, range=list(yr), dtick=Y_DTICK[i], tick0=yr[0],
                      tickformat=Y_FMT[i], anchor=xa, **axis_common)
    # legend key axes (axis-fraction coordinates, overlaid on the panel)
    m = n + 8
    layout[f"xaxis{m}"] = dict(overlaying=xa, range=[0, 1], visible=False, anchor=f"y{m}",
                               fixedrange=True, showgrid=False, zeroline=False)
    layout[f"yaxis{m}"] = dict(overlaying=ya, range=[0, 1], visible=False, anchor=f"x{m}",
                               fixedrange=True, showgrid=False, zeroline=False)

    for s, ys in enumerate([lo, up, ga]):
        k = min(len(xs), len(ys))
        fig.add_trace(go.Scatter(x=xs[:k], y=ys[:k], mode="markers", xaxis=xa, yaxis=ya,
                                 marker=styles[s], hoverinfo="skip", cliponaxis=True))
    for s in range(3):
        fig.add_trace(go.Scatter(x=LEG_KEY_X, y=[LEG_ROW_Y[s]] * 4, mode="markers",
                                 xaxis=f"x{m}", yaxis=f"y{m}", marker=styles[s], hoverinfo="skip"))
        annotations.append(dict(text=SERIES_NAMES[s], xref=f"x{m}", yref=f"y{m}",
                                x=LEG_TEXT_X, y=LEG_ROW_Y[s], xanchor="left", yanchor="middle",
                                showarrow=False, font=dict(family=SERIF, size=16, color="#222")))
    # axis title
    annotations.append(dict(text="⟨<i>C</i>⟩", xref="paper", yref="paper",
                            x=(x0 + x1) / 2 / W, y=1 - (bot + 38) / H,
                            xanchor="center", yanchor="middle", showarrow=False,
                            font=dict(family=SERIF, size=21, color="#222")))
    # caption
    cx = 186 if c == 0 else 579
    annotations.append(dict(text=CAPTIONS[i], xref="paper", yref="paper",
                            x=cx / W, y=1 - (bot + 70) / H,
                            xanchor="center", yanchor="middle", showarrow=False,
                            font=dict(family=SERIF, size=22, color="#111")))

layout["annotations"] = annotations
fig.update_layout(**layout)
fig.write_html("out.html")
